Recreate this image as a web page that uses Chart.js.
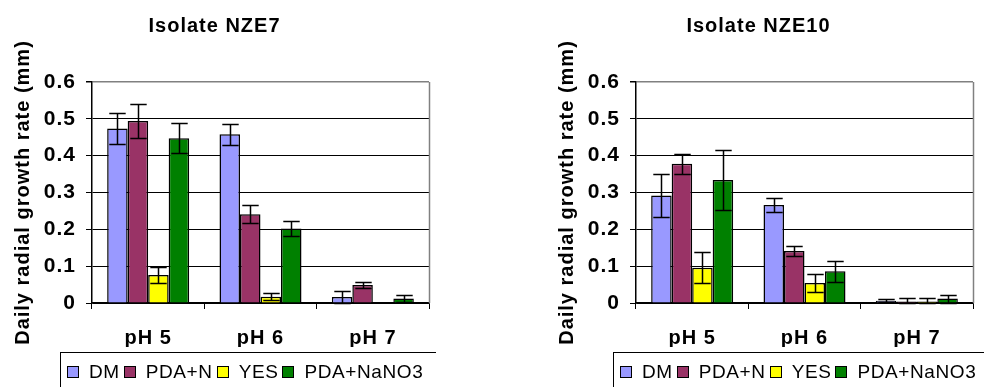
<!DOCTYPE html>
<html>
<head>
<meta charset="utf-8">
<title>Daily radial growth rate</title>
<script src="https://cdn.jsdelivr.net/npm/chart.js@4.4.1/dist/chart.umd.min.js"></script>
<style>
    html, body {
        margin: 0;
        padding: 0;
        background: #fff;
        width: 984px;
        height: 387px;
        overflow: hidden;
        position: relative;
    }
    .panel {
        position: absolute;
        top: 0;
        width: 440px;
        height: 387px;
        overflow: hidden;
    }
    .legend {
        position: absolute;
        top: 352px;
        width: 420px;
        height: 48px;
        border: 1px solid #000;
        box-sizing: border-box;
        display: flex;
        align-items: center;
        padding-left: 6px;
        padding-bottom: 8px;
        font-family: "Liberation Sans", Arial, sans-serif;
        font-size: 19px;
        letter-spacing: 0.6px;
        white-space: nowrap;
        color: #000;
    }
    .legend .swatch {
        width: 10px;
        height: 10px;
        border: 1px solid #000;
        margin-right: 10px;
        flex: none;
    }
    .legend .label {
        margin-right: 4px;
    }
</style>
</head>
<body>
<div class="panel" style="left:0"><canvas id="chartNZE7" width="440" height="387"></canvas></div>
<div class="panel" style="left:544px; width:440px"><canvas id="chartNZE10" width="440" height="387"></canvas></div>
<div class="panel" style="left:0; width:436px"><div class="legend" id="legendNZE7" style="left:60px"></div></div>
<div class="panel" style="left:544px; width:440px"><div class="legend" id="legendNZE10" style="left:69px"></div></div>

<script>
// growth media and pH levels
const categories = ['pH 5', 'pH 6', 'pH 7'];
const seriesNames = ['DM', 'PDA+N', 'YES', 'PDA+NaNO3'];

// isolate NZE7: mean daily growth (mm) and error
const nze7Dm = [0.474, 0.458, 0.016];
const nze7PdaN = [0.494, 0.241, 0.049];
const nze7Yes = [0.076, 0.017, 0.0];
const nze7PdaNaNO3 = [0.447, 0.202, 0.012];
const nze7DmErr = [0.043, 0.028, 0.016];
const nze7PdaNErr = [0.045, 0.024, 0.007];
const nze7YesErr = [0.022, 0.010, 0];
const nze7PdaNaNO3Err = [0.041, 0.021, 0.010];

// isolate NZE10
const nze10Dm = [0.292, 0.266, 0.006];
const nze10PdaN = [0.378, 0.141, 0.004];
const nze10Yes = [0.096, 0.054, 0.004];
const nze10PdaNaNO3 = [0.334, 0.086, 0.012];
const nze10DmErr = [0.059, 0.018, 0.004];
const nze10PdaNErr = [0.027, 0.014, 0.010];
const nze10YesErr = [0.043, 0.024, 0.010];
const nze10PdaNaNO3Err = [0.082, 0.028, 0.011];

const yTickMax = 0.6;
const yTickStep = 0.1;

const palette = ['#9999FF', '#993366', '#FFFF00', '#008000'];
const FONT = '"Liberation Sans", Arial, sans-serif';

// vertical error whiskers on top of each bar
const errorBars = {
    id: 'errorBars',
    afterDatasetsDraw(chart) {
        const ctx = chart.ctx;
        const y = chart.scales.y;
        ctx.save();
        ctx.strokeStyle = '#000';
        ctx.lineWidth = 1.5;
        chart.data.datasets.forEach((ds, i) => {
            const meta = chart.getDatasetMeta(i);
            meta.data.forEach((bar, j) => {
                const err = ds.errors[j];
                if (!err) return;
                const v = ds.data[j];
                const top = Math.round(y.getPixelForValue(v + err)) + 0.5;
                const bot = Math.round(y.getPixelForValue(Math.max(0, v - err))) + 0.5;
                const x = Math.round(bar.x) + 0.5;
                const half = bar.width * 0.4;
                ctx.beginPath();
                ctx.moveTo(x, top);
                ctx.lineTo(x, bot);
                ctx.moveTo(x - half, top);
                ctx.lineTo(x + half, top);
                ctx.moveTo(x - half, bot);
                ctx.lineTo(x + half, bot);
                ctx.stroke();
            });
        });
        ctx.restore();
    }
};

// grey right edge of the plot area
const plotFrame = {
    id: 'plotFrame',
    afterDraw(chart) {
        const { ctx, chartArea } = chart;
        ctx.save();
        ctx.strokeStyle = '#808080';
        ctx.lineWidth = 1.5;
        const x = Math.round(chartArea.right) + 0.5;
        ctx.beginPath();
        ctx.moveTo(x, chartArea.top);
        ctx.lineTo(x, chartArea.bottom);
        ctx.stroke();
        ctx.restore();
    }
};

const textSpacing = {
    id: 'textSpacing',
    beforeLayout(chart) { chart.ctx.letterSpacing = '1px'; },
    beforeDraw(chart) { chart.ctx.letterSpacing = '1px'; }
};

function buildChart(canvasId, title, values, errors) {
    const ctx = document.getElementById(canvasId);
    const datasets = seriesNames.map((name, i) => ({
        label: name,
        data: values[i],
        errors: errors[i],
        backgroundColor: palette[i],
        borderColor: '#000',
        borderWidth: 1.5,
        categoryPercentage: 0.73,
        barPercentage: 1.0
    }));

    return new Chart(ctx, {
        type: 'bar',
        data: { labels: categories, datasets: datasets },
        plugins: [textSpacing, errorBars, plotFrame],
        options: {
            responsive: false,
            animation: false,
            layout: { padding: { left: 0, right: 11, top: 0, bottom: 40 } },
            plugins: {
                legend: { display: false },
                tooltip: { enabled: false },
                title: {
                    display: true,
                    text: title,
                    color: '#000',
                    font: { family: FONT, size: 20, weight: 'bold' },
                    padding: { top: 14, bottom: 44 }
                }
            },
            scales: {
                x: {
                    offset: true,
                    afterFit: (s) => { s.height = 44; },
                    grid: {
                        offset: true,
                        drawOnChartArea: false,
                        drawTicks: true,
                        tickLength: 6,
                        tickColor: '#000',
                        lineWidth: 1
                    },
                    border: { color: '#000', width: 1.5 },
                    ticks: {
                        color: '#000',
                        padding: 17,
                        font: { family: FONT, size: 20, weight: 'bold' }
                    }
                },
                y: {
                    min: 0,
                    max: yTickMax,
                    afterFit: (s) => { s.width = 92; },
                    grid: {
                        color: (c) => Math.abs(c.tick.value - yTickMax) < 1e-6 ? '#808080' : '#000',
                        lineWidth: (c) => Math.abs(c.tick.value - yTickMax) < 1e-6 ? 1.5 : 1,
                        tickColor: '#000',
                        tickLength: 6
                    },
                    border: { color: '#000', width: 1.5 },
                    ticks: {
                        stepSize: yTickStep,
                        color: '#000',
                        padding: 10,
                        font: { family: FONT, size: 21, weight: 'bold' },
                        callback: (v) => v === 0 ? '0' : v.toFixed(1)
                    },
                    title: {
                        display: true,
                        text: 'Daily radial growth rate (mm)',
                        color: '#000',
                        padding: { top: 11, bottom: 0 },
                        font: { family: FONT, size: 20, weight: 'bold' }
                    }
                }
            }
        }
    });
}

function buildLegend(id) {
    const box = document.getElementById(id);
    seriesNames.forEach((name, i) => {
        const sw = document.createElement('span');
        sw.className = 'swatch';
        sw.style.background = palette[i];
        const lb = document.createElement('span');
        lb.className = 'label';
        lb.textContent = name;
        box.appendChild(sw);
        box.appendChild(lb);
    });
}

buildChart('chartNZE7', 'Isolate NZE7',
    [nze7Dm, nze7PdaN, nze7Yes, nze7PdaNaNO3],
    [nze7DmErr, nze7PdaNErr, nze7YesErr, nze7PdaNaNO3Err]);
buildChart('chartNZE10', 'Isolate NZE10',
    [nze10Dm, nze10PdaN, nze10Yes, nze10PdaNaNO3],
    [nze10DmErr, nze10PdaNErr, nze10YesErr, nze10PdaNaNO3Err]);
buildLegend('legendNZE7');
buildLegend('legendNZE10');
</script>
</body>
</html>
